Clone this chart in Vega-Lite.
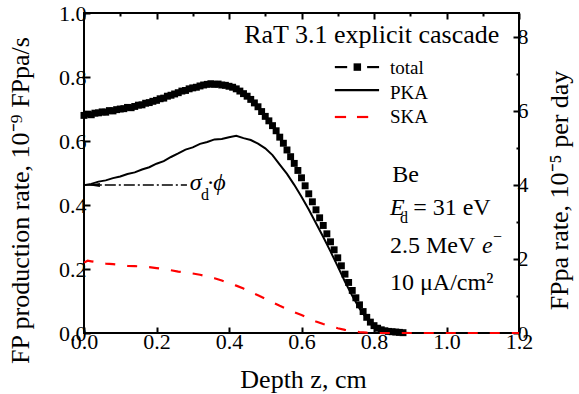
{
  "$schema": "https://vega.github.io/schema/vega-lite/v6.json",
  "width": 435,
  "height": 320,
  "autosize": {"type": "none"},
  "padding": {"left": 84, "top": 13, "right": 60, "bottom": 61},
  "background": "white",
  "config": {
    "view": {"stroke": "black", "strokeWidth": 2},
    "font": "Liberation Serif",
    "axis": {
      "grid": false, "domain": false, "tickColor": "black", "tickWidth": 2,
      "labelFont": "Liberation Serif", "labelFontSize": 22, "labelColor": "black",
      "titleFont": "Liberation Serif", "titleFontSize": 26, "titleFontWeight": "normal", "titleColor": "black",
      "labelFlush": false, "labelOverlap": false
    }
  },
  "datasets": {
    "total": [
      {"z":0.00,"v":0.680,"s":"total"},{"z":0.01,"v":0.684,"s":"total"},{"z":0.02,"v":0.682,"s":"total"},{"z":0.03,"v":0.687,"s":"total"},{"z":0.04,"v":0.688,"s":"total"},
      {"z":0.05,"v":0.691,"s":"total"},{"z":0.06,"v":0.690,"s":"total"},{"z":0.07,"v":0.695,"s":"total"},{"z":0.08,"v":0.694,"s":"total"},{"z":0.09,"v":0.698,"s":"total"},
      {"z":0.10,"v":0.700,"s":"total"},{"z":0.11,"v":0.701,"s":"total"},{"z":0.12,"v":0.705,"s":"total"},{"z":0.13,"v":0.704,"s":"total"},{"z":0.14,"v":0.708,"s":"total"},
      {"z":0.15,"v":0.712,"s":"total"},{"z":0.16,"v":0.713,"s":"total"},{"z":0.17,"v":0.718,"s":"total"},{"z":0.18,"v":0.720,"s":"total"},{"z":0.19,"v":0.724,"s":"total"},
      {"z":0.20,"v":0.727,"s":"total"},{"z":0.21,"v":0.732,"s":"total"},{"z":0.22,"v":0.734,"s":"total"},{"z":0.23,"v":0.740,"s":"total"},{"z":0.24,"v":0.743,"s":"total"},
      {"z":0.25,"v":0.747,"s":"total"},{"z":0.26,"v":0.751,"s":"total"},{"z":0.27,"v":0.756,"s":"total"},{"z":0.28,"v":0.758,"s":"total"},{"z":0.29,"v":0.763,"s":"total"},
      {"z":0.30,"v":0.766,"s":"total"},{"z":0.31,"v":0.768,"s":"total"},{"z":0.32,"v":0.772,"s":"total"},{"z":0.33,"v":0.775,"s":"total"},{"z":0.34,"v":0.777,"s":"total"},
      {"z":0.35,"v":0.779,"s":"total"},{"z":0.36,"v":0.777,"s":"total"},{"z":0.37,"v":0.778,"s":"total"},{"z":0.38,"v":0.775,"s":"total"},{"z":0.39,"v":0.774,"s":"total"},
      {"z":0.40,"v":0.771,"s":"total"},{"z":0.41,"v":0.768,"s":"total"},{"z":0.42,"v":0.763,"s":"total"},{"z":0.43,"v":0.756,"s":"total"},{"z":0.44,"v":0.748,"s":"total"},
      {"z":0.45,"v":0.740,"s":"total"},{"z":0.46,"v":0.730,"s":"total"},{"z":0.47,"v":0.719,"s":"total"},{"z":0.48,"v":0.707,"s":"total"},{"z":0.49,"v":0.692,"s":"total"},
      {"z":0.50,"v":0.677,"s":"total"},{"z":0.51,"v":0.663,"s":"total"},{"z":0.52,"v":0.648,"s":"total"},{"z":0.53,"v":0.632,"s":"total"},{"z":0.54,"v":0.612,"s":"total"},
      {"z":0.55,"v":0.593,"s":"total"},{"z":0.56,"v":0.572,"s":"total"},{"z":0.57,"v":0.551,"s":"total"},{"z":0.58,"v":0.530,"s":"total"},{"z":0.59,"v":0.508,"s":"total"},
      {"z":0.60,"v":0.485,"s":"total"},{"z":0.61,"v":0.460,"s":"total"},{"z":0.62,"v":0.435,"s":"total"},{"z":0.63,"v":0.410,"s":"total"},{"z":0.64,"v":0.385,"s":"total"},
      {"z":0.65,"v":0.360,"s":"total"},{"z":0.66,"v":0.336,"s":"total"},{"z":0.67,"v":0.310,"s":"total"},{"z":0.68,"v":0.285,"s":"total"},{"z":0.69,"v":0.260,"s":"total"},
      {"z":0.70,"v":0.235,"s":"total"},{"z":0.71,"v":0.210,"s":"total"},{"z":0.72,"v":0.184,"s":"total"},{"z":0.73,"v":0.158,"s":"total"},{"z":0.74,"v":0.133,"s":"total"},
      {"z":0.75,"v":0.110,"s":"total"},{"z":0.76,"v":0.088,"s":"total"},{"z":0.77,"v":0.067,"s":"total"},{"z":0.78,"v":0.049,"s":"total"},{"z":0.79,"v":0.034,"s":"total"},
      {"z":0.80,"v":0.023,"s":"total"},{"z":0.81,"v":0.015,"s":"total"},{"z":0.82,"v":0.010,"s":"total"},{"z":0.83,"v":0.007,"s":"total"},{"z":0.84,"v":0.005,"s":"total"},
      {"z":0.85,"v":0.004,"s":"total"},{"z":0.86,"v":0.003,"s":"total"},{"z":0.87,"v":0.002,"s":"total"},{"z":0.88,"v":0.001,"s":"total"}
    ],
    "pka": [
      {"z":0.00,"v":0.462,"s":"PKA"},{"z":0.02,"v":0.466,"s":"PKA"},{"z":0.04,"v":0.473,"s":"PKA"},{"z":0.06,"v":0.477,"s":"PKA"},{"z":0.08,"v":0.484,"s":"PKA"},
      {"z":0.10,"v":0.489,"s":"PKA"},{"z":0.12,"v":0.497,"s":"PKA"},{"z":0.14,"v":0.502,"s":"PKA"},{"z":0.16,"v":0.511,"s":"PKA"},{"z":0.18,"v":0.518,"s":"PKA"},
      {"z":0.20,"v":0.529,"s":"PKA"},{"z":0.22,"v":0.537,"s":"PKA"},{"z":0.24,"v":0.550,"s":"PKA"},{"z":0.26,"v":0.561,"s":"PKA"},{"z":0.28,"v":0.573,"s":"PKA"},
      {"z":0.30,"v":0.580,"s":"PKA"},{"z":0.32,"v":0.591,"s":"PKA"},{"z":0.34,"v":0.597,"s":"PKA"},{"z":0.36,"v":0.605,"s":"PKA"},{"z":0.38,"v":0.606,"s":"PKA"},
      {"z":0.40,"v":0.612,"s":"PKA"},{"z":0.42,"v":0.616,"s":"PKA"},{"z":0.44,"v":0.609,"s":"PKA"},{"z":0.46,"v":0.603,"s":"PKA"},{"z":0.48,"v":0.592,"s":"PKA"},
      {"z":0.50,"v":0.577,"s":"PKA"},{"z":0.52,"v":0.556,"s":"PKA"},{"z":0.54,"v":0.526,"s":"PKA"},{"z":0.56,"v":0.497,"s":"PKA"},{"z":0.58,"v":0.463,"s":"PKA"},
      {"z":0.60,"v":0.426,"s":"PKA"},{"z":0.62,"v":0.386,"s":"PKA"},{"z":0.64,"v":0.343,"s":"PKA"},{"z":0.66,"v":0.300,"s":"PKA"},{"z":0.68,"v":0.255,"s":"PKA"},
      {"z":0.70,"v":0.208,"s":"PKA"},{"z":0.72,"v":0.160,"s":"PKA"},{"z":0.74,"v":0.116,"s":"PKA"},{"z":0.76,"v":0.077,"s":"PKA"},{"z":0.78,"v":0.045,"s":"PKA"},
      {"z":0.80,"v":0.022,"s":"PKA"},{"z":0.82,"v":0.010,"s":"PKA"},{"z":0.84,"v":0.004,"s":"PKA"},{"z":0.86,"v":0.002,"s":"PKA"},{"z":0.88,"v":0.001,"s":"PKA"},
      {"z":0.90,"v":0.0,"s":"PKA"},{"z":1.00,"v":0.0,"s":"PKA"},{"z":1.20,"v":0.0,"s":"PKA"}
    ],
    "ska": [
      {"z":0.00,"v":0.220,"s":"SKA"},{"z":0.01,"v":0.226,"s":"SKA"},{"z":0.02,"v":0.224,"s":"SKA"},{"z":0.04,"v":0.220,"s":"SKA"},{"z":0.06,"v":0.217,"s":"SKA"},
      {"z":0.08,"v":0.215,"s":"SKA"},{"z":0.10,"v":0.213,"s":"SKA"},{"z":0.12,"v":0.210,"s":"SKA"},{"z":0.14,"v":0.209,"s":"SKA"},{"z":0.16,"v":0.208,"s":"SKA"},
      {"z":0.18,"v":0.206,"s":"SKA"},{"z":0.20,"v":0.203,"s":"SKA"},{"z":0.22,"v":0.200,"s":"SKA"},{"z":0.24,"v":0.196,"s":"SKA"},{"z":0.26,"v":0.192,"s":"SKA"},
      {"z":0.28,"v":0.189,"s":"SKA"},{"z":0.30,"v":0.186,"s":"SKA"},{"z":0.32,"v":0.182,"s":"SKA"},{"z":0.34,"v":0.177,"s":"SKA"},{"z":0.36,"v":0.171,"s":"SKA"},
      {"z":0.38,"v":0.164,"s":"SKA"},{"z":0.40,"v":0.156,"s":"SKA"},{"z":0.42,"v":0.148,"s":"SKA"},{"z":0.44,"v":0.139,"s":"SKA"},{"z":0.46,"v":0.128,"s":"SKA"},
      {"z":0.48,"v":0.118,"s":"SKA"},{"z":0.50,"v":0.107,"s":"SKA"},{"z":0.52,"v":0.096,"s":"SKA"},{"z":0.54,"v":0.085,"s":"SKA"},{"z":0.56,"v":0.075,"s":"SKA"},
      {"z":0.58,"v":0.065,"s":"SKA"},{"z":0.60,"v":0.056,"s":"SKA"},{"z":0.62,"v":0.046,"s":"SKA"},{"z":0.64,"v":0.036,"s":"SKA"},{"z":0.66,"v":0.028,"s":"SKA"},
      {"z":0.68,"v":0.021,"s":"SKA"},{"z":0.70,"v":0.015,"s":"SKA"},{"z":0.72,"v":0.010,"s":"SKA"},{"z":0.74,"v":0.006,"s":"SKA"},{"z":0.76,"v":0.003,"s":"SKA"},
      {"z":0.78,"v":0.001,"s":"SKA"},{"z":0.80,"v":0.0,"s":"SKA"},{"z":0.90,"v":0.0,"s":"SKA"},{"z":1.00,"v":0.0,"s":"SKA"},{"z":1.10,"v":0.0,"s":"SKA"},{"z":1.20,"v":0.0,"s":"SKA"}
    ],
    "legendSeg": [
      {"x":0.692,"x2":0.726,"y":0.831,"s":"total"},
      {"x":0.781,"x2":0.814,"y":0.831,"s":"total"},
      {"x":0.692,"x2":0.814,"y":0.759,"s":"PKA"},
      {"x":0.692,"x2":0.723,"y":0.675,"s":"SKA"},
      {"x":0.753,"x2":0.784,"y":0.675,"s":"SKA"}
    ],
    "legendMark": [{"x":0.754,"y":0.831,"s":"total"}],
    "legendText": [
      {"x":0.844,"y":0.809,"t":"total"},
      {"x":0.844,"y":0.731,"t":"PKA"},
      {"x":0.844,"y":0.656,"t":"SKA"}
    ],
    "heading": [{"x":0.442,"y":0.906,"t":"RaT 3.1 explicit cascade"}],
    "roman": [
      {"x":0.850,"y":0.472,"t":"Be"},
      {"x":0.908,"y":0.369,"t":"= 31 eV"},
      {"x":0.844,"y":0.250,"t":"2.5 MeV"},
      {"x":0.844,"y":0.134,"t":"10 μA/cm²"}
    ],
    "italic": [
      {"x":0.844,"y":0.369,"t":"E"},
      {"x":1.098,"y":0.250,"t":"e"},
      {"x":0.292,"y":0.447,"t":"σ"},
      {"x":0.340,"y":0.447,"t":"·ϕ"}
    ],
    "sub": [
      {"x":0.872,"y":0.344,"t":"d"},
      {"x":0.323,"y":0.416,"t":"d"},
      {"x":1.128,"y":0.284,"t":"−"}
    ],
    "arrow": [{"x":0.005,"x2":0.284,"y":0.4625}],
    "head": [{"x":0.026,"y":0.4625}]
  },
  "layer": [
    {
      "layer": [
        {
          "data": {"name": "total"},
          "mark": {"type": "point", "shape": "square", "filled": true, "size": 48, "opacity": 1},
          "encoding": {
            "x": {"field": "z", "type": "quantitative", "scale": {"domain": [0, 1.2], "nice": false, "zero": false},
              "axis": {"values": [0,0.1,0.2,0.3,0.4,0.5,0.6,0.7,0.8,0.9,1,1.1,1.2],
                "labelExpr": "round(datum.value*10) % 2 == 0 ? format(datum.value, '.1f') : ''",
                "tickSize": {"condition": {"test": "round(datum.value*10) % 2 == 0", "value": -6}, "value": -3},
                "labelPadding": 4,
                "title": "Depth z, cm", "titleX": 219, "titleY": 54, "titleBaseline": "alphabetic"}},
            "y": {"field": "v", "type": "quantitative", "scale": {"domain": [0, 1], "nice": false, "zero": false},
              "axis": {"values": [0,0.1,0.2,0.3,0.4,0.5,0.6,0.7,0.8,0.9,1],
                "labelExpr": "round(datum.value*10) % 2 == 0 ? format(datum.value, '.1f') : ''",
                "tickSize": {"condition": {"test": "round(datum.value*10) % 2 == 0", "value": -6}, "value": -3},
                "labelPadding": 4,
                "title": "FP production rate, 10⁻⁹ FPpa/s", "titleX": -56, "titleY": 187, "titleAngle": -90, "titleBaseline": "alphabetic"}},
            "color": {"field": "s", "type": "nominal",
              "scale": {"domain": ["total", "PKA", "SKA"], "range": ["black", "black", "#ff0000"]},
              "legend": null}
          }
        },
        {
          "data": {"name": "pka"},
          "mark": {"type": "line", "strokeWidth": 2},
          "encoding": {
            "x": {"field": "z", "type": "quantitative"},
            "y": {"field": "v", "type": "quantitative"},
            "color": {"field": "s", "type": "nominal", "legend": null}
          }
        },
        {
          "data": {"name": "ska"},
          "mark": {"type": "line", "strokeWidth": 2.2, "strokeDash": [10, 12]},
          "encoding": {
            "x": {"field": "z", "type": "quantitative"},
            "y": {"field": "v", "type": "quantitative"},
            "color": {"field": "s", "type": "nominal", "legend": null}
          }
        },
        {
          "data": {"name": "legendSeg"},
          "mark": {"type": "rule", "strokeWidth": 2.2},
          "encoding": {
            "x": {"field": "x", "type": "quantitative"},
            "x2": {"field": "x2"},
            "y": {"field": "y", "type": "quantitative"},
            "color": {"field": "s", "type": "nominal", "legend": null}
          }
        },
        {
          "data": {"name": "legendMark"},
          "mark": {"type": "point", "shape": "square", "filled": true, "size": 56, "opacity": 1},
          "encoding": {
            "x": {"field": "x", "type": "quantitative"},
            "y": {"field": "y", "type": "quantitative"},
            "color": {"field": "s", "type": "nominal", "legend": null}
          }
        },
        {
          "data": {"name": "legendText"},
          "mark": {"type": "text", "font": "Liberation Serif", "fontSize": 19, "align": "left", "baseline": "alphabetic", "color": "black"},
          "encoding": {
            "x": {"field": "x", "type": "quantitative"},
            "y": {"field": "y", "type": "quantitative"},
            "text": {"field": "t"}
          }
        },
        {
          "data": {"name": "arrow"},
          "mark": {"type": "rule", "color": "black", "strokeWidth": 1.6, "strokeDash": [11, 3, 2, 3]},
          "encoding": {
            "x": {"field": "x", "type": "quantitative"},
            "x2": {"field": "x2"},
            "y": {"field": "y", "type": "quantitative"}
          }
        },
        {
          "data": {"name": "head"},
          "mark": {"type": "point", "shape": "M-1,0L1,-0.3L1,0.3Z", "filled": true, "color": "black", "size": 169, "opacity": 1},
          "encoding": {
            "x": {"field": "x", "type": "quantitative"},
            "y": {"field": "y", "type": "quantitative"}
          }
        },
        {
          "data": {"name": "heading"},
          "mark": {"type": "text", "font": "Liberation Serif", "fontSize": 26, "align": "left", "baseline": "alphabetic", "color": "black"},
          "encoding": {
            "x": {"field": "x", "type": "quantitative"},
            "y": {"field": "y", "type": "quantitative"},
            "text": {"field": "t"}
          }
        },
        {
          "data": {"name": "roman"},
          "mark": {"type": "text", "font": "Liberation Serif", "fontSize": 24, "align": "left", "baseline": "alphabetic", "color": "black"},
          "encoding": {
            "x": {"field": "x", "type": "quantitative"},
            "y": {"field": "y", "type": "quantitative"},
            "text": {"field": "t"}
          }
        },
        {
          "data": {"name": "italic"},
          "mark": {"type": "text", "font": "Liberation Serif", "fontSize": 24, "fontStyle": "italic", "align": "left", "baseline": "alphabetic", "color": "black"},
          "encoding": {
            "x": {"field": "x", "type": "quantitative"},
            "y": {"field": "y", "type": "quantitative"},
            "text": {"field": "t"}
          }
        },
        {
          "data": {"name": "sub"},
          "mark": {"type": "text", "font": "Liberation Serif", "fontSize": 16, "align": "left", "baseline": "alphabetic", "color": "black"},
          "encoding": {
            "x": {"field": "x", "type": "quantitative"},
            "y": {"field": "y", "type": "quantitative"},
            "text": {"field": "t"}
          }
        }
      ]
    },
    {
      "data": {"values": [{"r": 0}, {"r": 8.64}]},
      "mark": {"type": "point", "opacity": 0},
      "encoding": {
        "y": {"field": "r", "type": "quantitative", "scale": {"domain": [0, 8.64], "nice": false, "zero": false},
          "axis": {"orient": "right", "values": [0,1,2,3,4,5,6,7,8],
            "labelExpr": "datum.value % 2 == 0 ? format(datum.value, 'd') : ''",
            "tickSize": {"condition": {"test": "datum.value % 2 == 0", "value": -6}, "value": -3},
            "labelPadding": 4,
            "title": "FPpa rate, 10⁻⁵ per day", "titleX": 48, "titleY": 177, "titleAngle": -90, "titleBaseline": "alphabetic"}}
      }
    },
    {
      "data": {"values": [{"t": 0}, {"t": 1.2}]},
      "mark": {"type": "point", "opacity": 0},
      "encoding": {
        "x": {"field": "t", "type": "quantitative", "scale": {"domain": [0, 1.2], "nice": false, "zero": false},
          "axis": {"orient": "top", "values": [0,0.1,0.2,0.3,0.4,0.5,0.6,0.7,0.8,0.9,1,1.1,1.2], "labels": false, "title": null,
            "tickSize": {"condition": {"test": "round(datum.value*10) % 2 == 0", "value": -6}, "value": -3}}}
      }
    }
  ],
  "resolve": {"scale": {"x": "independent", "y": "independent"}}
}
